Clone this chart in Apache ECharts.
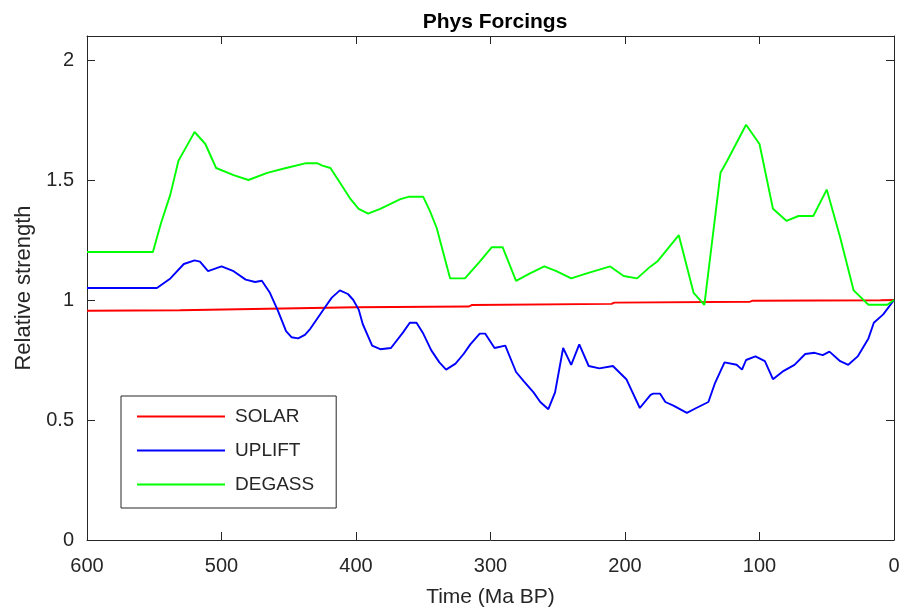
<!DOCTYPE html>
<html>
<head>
<meta charset="utf-8">
<script src="https://cdn.jsdelivr.net/npm/echarts@6/dist/echarts.min.js"></script>
<style>html,body{margin:0;padding:0;background:#fff;}#chart{width:904px;height:614px;}</style>
</head>
<body>
<div id="chart"></div>
<script>
const xTicks = [600, 500, 400, 300, 200, 100, 0];
const yTicks = [0, 0.5, 1, 1.5, 2];

const solarAge = [600, 531, 530, 400, 316, 314, 210, 208, 107, 105, 10, 0];
const solarValue = [0.955, 0.957, 0.963, 0.970, 0.973, 0.979, 0.984, 0.989, 0.993, 0.997, 0.999, 1.00];

const upliftAge = [600, 548, 538, 528, 520, 516, 510, 500, 491, 482, 475, 470, 464, 458, 452, 448, 443, 438, 434, 423, 418, 412, 406, 402, 398, 395, 388, 382, 374, 365, 360, 355, 350, 344, 338, 333, 326, 320, 315, 308, 304, 297, 289, 281, 275, 268, 263, 257, 252, 246, 240, 234, 227, 219, 209, 199, 189, 181, 179, 174, 170, 164, 154, 147, 138, 133, 126, 117, 113, 110, 103, 96, 90, 82, 74, 66, 59, 53, 48, 40, 34, 27, 19, 15, 8, 0];
const upliftValue = [1.05, 1.05, 1.09, 1.15, 1.165, 1.16, 1.12, 1.14, 1.12, 1.085, 1.075, 1.08, 1.03, 0.955, 0.87, 0.845, 0.84, 0.855, 0.88, 0.97, 1.01, 1.04, 1.025, 1.00, 0.96, 0.90, 0.81, 0.795, 0.80, 0.865, 0.905, 0.905, 0.86, 0.79, 0.74, 0.71, 0.735, 0.775, 0.815, 0.86, 0.86, 0.80, 0.81, 0.70, 0.66, 0.615, 0.575, 0.545, 0.615, 0.80, 0.73, 0.815, 0.725, 0.715, 0.725, 0.67, 0.55, 0.605, 0.61, 0.61, 0.575, 0.56, 0.53, 0.55, 0.575, 0.655, 0.74, 0.73, 0.71, 0.75, 0.765, 0.745, 0.67, 0.705, 0.73, 0.775, 0.78, 0.77, 0.785, 0.745, 0.73, 0.765, 0.84, 0.905, 0.94, 1.00];

const degassAge = [600, 551, 545, 538, 532, 526, 520, 512, 504, 491, 480, 466, 452, 437, 429, 425, 419, 412, 404, 398, 391, 382, 367, 361, 350, 345, 340, 330, 319, 308, 299, 291, 281, 271, 260, 251, 240, 229, 211, 201, 191, 181, 176, 160, 149, 141, 129, 124, 110, 100, 90, 80, 71, 60, 50, 40, 30, 19, 5, 0];
const degassValue = [1.20, 1.20, 1.32, 1.44, 1.58, 1.64, 1.70, 1.65, 1.55, 1.52, 1.50, 1.53, 1.55, 1.57, 1.57, 1.56, 1.55, 1.49, 1.42, 1.38, 1.36, 1.38, 1.42, 1.43, 1.43, 1.37, 1.30, 1.09, 1.09, 1.16, 1.22, 1.22, 1.08, 1.11, 1.14, 1.12, 1.09, 1.11, 1.14, 1.10, 1.09, 1.14, 1.16, 1.27, 1.03, 0.98, 1.53, 1.58, 1.73, 1.65, 1.38, 1.33, 1.35, 1.35, 1.46, 1.26, 1.04, 0.98, 0.98, 1.00];

const seriesNames = ['SOLAR', 'UPLIFT', 'DEGASS'];
const seriesColors = ['#ff0000', '#0000ff', '#00ff00'];

function pairs(a, v) { return a.map((x, i) => [x, v[i]]); }

const axisColor = '#262626';
const font = 'Liberation Sans, Arial, Helvetica, sans-serif';

const chart = echarts.init(document.getElementById('chart'), null, { renderer: 'canvas' });

const xBase = {
  type: 'value', min: 0, max: 600, interval: 100, inverse: true,
  axisLine: { show: true, onZero: false, lineStyle: { color: axisColor, width: 1 } },
  axisTick: { show: true, inside: true, length: 8, lineStyle: { color: axisColor } },
  splitLine: { show: false }
};
const yBase = {
  type: 'value', min: 0, max: 2.1, interval: 0.5,
  axisLine: { show: true, onZero: false, lineStyle: { color: axisColor, width: 1 } },
  axisTick: { show: true, inside: true, length: 8, lineStyle: { color: axisColor } },
  splitLine: { show: false }
};

chart.setOption({
  animation: false,
  backgroundColor: '#ffffff',
  title: {
    text: 'Phys Forcings', left: 490, top: 7, textAlign: 'center',
    textStyle: { fontFamily: font, fontSize: 21, fontWeight: 'bold', color: '#000' }
  },
  grid: { left: 87, right: 10, top: 36, bottom: 74, containLabel: false },
  legend: {
    data: seriesNames, orient: 'vertical', left: 121, top: 396,
    padding: [11, 22, 14, 16], itemGap: 15, itemWidth: 88, itemHeight: 2, icon: 'rect',
    borderColor: axisColor, borderWidth: 1, backgroundColor: '#fff',
    textStyle: { fontFamily: font, fontSize: 19, color: axisColor, padding: [0, 0, 0, 5] }
  },
  xAxis: [
    Object.assign({}, xBase, {
      position: 'bottom',
      name: 'Time (Ma BP)', nameLocation: 'middle', nameGap: 47,
      nameTextStyle: { fontFamily: font, fontSize: 21, color: axisColor },
      axisLabel: { show: true, margin: 16, fontFamily: font, fontSize: 20, color: axisColor,
        formatter: v => xTicks.includes(v) ? String(v) : '' }
    }),
    Object.assign({}, xBase, { position: 'top', axisLabel: { show: false } })
  ],
  yAxis: [
    Object.assign({}, yBase, {
      position: 'left',
      name: 'Relative strength', nameLocation: 'middle', nameGap: 52,
      nameTextStyle: { fontFamily: font, fontSize: 22, color: axisColor },
      axisLabel: { show: true, margin: 13, fontFamily: font, fontSize: 20, color: axisColor,
        showMaxLabel: false,
        formatter: v => yTicks.some(t => Math.abs(t - v) < 1e-9) ? String(v) : '' }
    }),
    Object.assign({}, yBase, { position: 'right', axisLabel: { show: false } })
  ],
  series: [
    { name: seriesNames[0], type: 'line', data: pairs(solarAge, solarValue), showSymbol: false, symbol: 'none',
      lineStyle: { color: seriesColors[0], width: 1.9 }, itemStyle: { color: seriesColors[0] }, z: 3 },
    { name: seriesNames[1], type: 'line', data: pairs(upliftAge, upliftValue), showSymbol: false, symbol: 'none',
      lineStyle: { color: seriesColors[1], width: 1.9 }, itemStyle: { color: seriesColors[1] }, z: 4 },
    { name: seriesNames[2], type: 'line', data: pairs(degassAge, degassValue), showSymbol: false, symbol: 'none',
      lineStyle: { color: seriesColors[2], width: 1.9 }, itemStyle: { color: seriesColors[2] }, z: 5 }
  ]
});
</script>
</body>
</html>
